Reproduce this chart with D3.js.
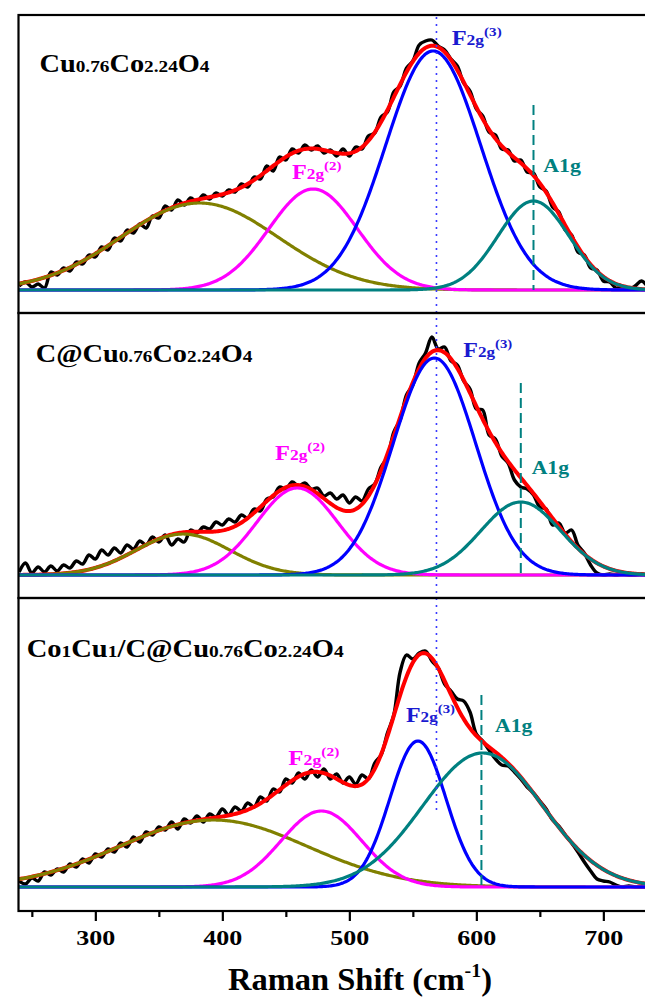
<!DOCTYPE html>
<html>
<head>
<meta charset="utf-8">
<script src="https://cdn.jsdelivr.net/npm/d3@7"></script>
<style>
  body { margin: 0; background: #fff; }
  svg { display: block; }
  text { font-family: "Liberation Serif", "Times New Roman", serif; font-weight: bold; }
</style>
</head>
<body>
<div id="chart"></div>
<script>
// raw spectra, sampled every 5 cm-1 from 240 cm-1 (intensity, a.u.)
const shiftStart = 240, shiftStep = 5;

const spectrum1 = [
  4, 8, 3, 6, 2, 18, 15, 22, 19, 28,
  26, 35, 33, 43, 40, 52, 49, 60, 57, 66,
  62, 74, 72, 84, 80, 90, 85, 92, 88, 95,
  91, 97, 94, 100, 98, 106, 103, 113, 111, 124,
  119, 133, 130, 141, 137, 145, 140, 144, 137, 140,
  134, 141, 134, 143, 141, 154, 157, 173, 178, 198,
  204, 222, 229, 245, 249, 250, 244, 240, 231, 224,
  207, 199, 181, 174, 158, 155, 141, 140, 129, 130,
  118, 117, 103, 99, 83, 78, 60, 55, 38, 35,
  22, 20, 9, 8, 2, 3, 1, 4, 9, 3
];
const spectrum2 = [
  3, 12, 2, 8, 3, 9, 4, 10, 7, 14,
  11, 20, 16, 25, 20, 27, 22, 30, 26, 34,
  30, 38, 33, 40, 30, 36, 33, 45, 42, 48,
  46, 53, 50, 56, 53, 60, 57, 66, 64, 76,
  78, 88, 86, 93, 89, 92, 86, 87, 79, 82,
  76, 80, 72, 78, 74, 86, 91, 108, 118, 143,
  155, 180, 190, 212, 222, 238, 226, 228, 214, 210,
  194, 186, 166, 165, 140, 136, 119, 112, 95, 88,
  86, 80, 68, 66, 50, 52, 42, 45, 30, 22,
  10, 2, 0, 1, 0, 1, 0, 0, 1, 0
];
const spectrum3 = [
  6, 3, 9, 6, 15, 12, 18, 15, 23, 20,
  28, 24, 33, 30, 38, 35, 44, 40, 50, 45,
  55, 52, 60, 57, 65, 58, 68, 64, 71, 65,
  73, 70, 78, 72, 80, 76, 84, 80, 90, 86,
  98, 95, 108, 104, 114, 108, 117, 110, 118, 108,
  113, 104, 110, 103, 112, 108, 124, 132, 154, 172,
  215, 232, 228, 234, 236, 226, 219, 203, 196, 188,
  186, 175, 153, 146, 137, 128, 122, 121, 115, 108,
  100, 94, 86, 78, 67, 61, 52, 44, 35, 25,
  16, 8, 6, 5, 2, 0, 1, 0, 0, 0
];

// gaussian fit components: [shoulder, F2g(2), F2g(3), A1g]
const centers1 = [382, 471.5, 566, 645];
const fwhm1 = [146, 82, 88, 66];
const heights1 = [87, 101, 239, 89];

const centers2 = [369, 459, 567, 635];
const fwhm2 = [87, 75, 76.5, 74];
const heights2 = [41, 87, 217, 73];

const centers3 = [393, 478, 554, 605];
const fwhm3 = [174, 75, 52, 111];
const heights3 = [67, 76, 146, 134];

const sampleNames = ["Cu0.76Co2.24O4", "C@Cu0.76Co2.24O4", "Co1Cu1/C@Cu0.76Co2.24O4"];
const a1gMarks = [645, 635, 604];        // dashed A1g marker position, cm-1
const a1gMarkTops = [185, 192, 192];     // top of the dashed marker, a.u.
const f2g3Mark = 568.6;                  // dotted guide across panels
const majorTicks = [300, 400, 500, 600, 700];
const minorTicks = [250, 350, 450, 550, 650, 750];

const compColors = ["#808000", "#ff00ff", "#0000ff", "#008080"];

const width = 645, height = 999;
const plotLeft = 18.5, plotRight = 647.8;

const panels = [
  {top: 15, bottom: 313, domain: [-23, 275], spec: spectrum1, c: centers1, w: fwhm1, h: heights1,
   name: {x: 39.5, y: 72, len: 170},
   labels: [{x: 292, y: 179, len: 49.6}, {x: 451.7, y: 45, len: 50}, {x: 543.3, y: 171.7, len: 37.7}]},
  {top: 313, bottom: 598, domain: [-23, 262], spec: spectrum2, c: centers2, w: fwhm2, h: heights2,
   name: {x: 35.7, y: 361.7, len: 216.7},
   labels: [{x: 275, y: 460, len: 50}, {x: 463.3, y: 357.3, len: 49}, {x: 531.7, y: 474, len: 37.3}]},
  {top: 598, bottom: 911, domain: [-24, 289], spec: spectrum3, c: centers3, w: fwhm3, h: heights3,
   name: {x: 26.7, y: 656.7, len: 317},
   labels: [{x: 288.3, y: 765, len: 51}, {x: 406, y: 721.7, len: 49}, {x: 495, y: 731.7, len: 37.3}]}
];

const svg = d3.select("#chart").append("svg")
  .attr("width", width)
  .attr("height", height);

const x = d3.scaleLinear().domain([239.5, 735]).range([plotLeft, plotRight]);

function gauss(v, c, w, h) {
  return h * Math.exp(-4 * Math.LN2 * (v - c) * (v - c) / (w * w));
}

const grid = d3.range(239.5, 736, 1);

panels.forEach((p, i) => {
  const y = d3.scaleLinear().domain(p.domain).range([p.bottom, p.top]);
  const clipId = "clip" + i;
  svg.append("clipPath").attr("id", clipId)
    .append("rect")
    .attr("x", plotLeft).attr("y", p.top)
    .attr("width", plotRight - plotLeft).attr("height", p.bottom - p.top);

  const g = svg.append("g").attr("clip-path", `url(#${clipId})`);
  const line = d3.line().x(d => x(d[0])).y(d => y(d[1]));

  // raw data
  const raw = p.spec.map((v, k) => [shiftStart + k * shiftStep, v]);
  g.append("path")
    .attr("d", line.curve(d3.curveCatmullRom)(raw))
    .attr("fill", "none").attr("stroke", "#000").attr("stroke-width", 3.4);

  // cumulative fit
  line.curve(d3.curveLinear);
  const fit = grid.map(v => [v, d3.sum(p.c, (c, k) => gauss(v, c, p.w[k], p.h[k]))]);
  g.append("path")
    .attr("d", line(fit))
    .attr("fill", "none").attr("stroke", "#ff0000").attr("stroke-width", 4);

  // components
  p.c.forEach((c, k) => {
    const comp = grid.map(v => [v, gauss(v, c, p.w[k], p.h[k])]);
    g.append("path")
      .attr("d", line(comp))
      .attr("fill", "none").attr("stroke", compColors[k]).attr("stroke-width", 3.2);
  });

  // A1g marker
  g.append("line")
    .attr("x1", x(a1gMarks[i])).attr("x2", x(a1gMarks[i]))
    .attr("y1", y(a1gMarkTops[i])).attr("y2", y(0))
    .attr("stroke", "#008080").attr("stroke-width", 2)
    .attr("stroke-dasharray", "10,5");

  // sample name with small numbers
  const name = svg.append("text")
    .attr("x", p.name.x).attr("y", p.name.y)
    .attr("fill", "#000")
    .attr("textLength", p.name.len)
    .attr("lengthAdjust", "spacingAndGlyphs");
  sampleNames[i].split(/(\d[\d.]*)/).filter(s => s).forEach(s => {
    name.append("tspan")
      .style("font-size", /\d/.test(s) ? "17px" : "25px")
      .text(s);
  });

  // peak labels
  const lab = p.labels;
  [[1, "2", "#ff00ff"], [2, "3", "#1a1ad0"]].forEach(([k, n, col]) => {
    const t = svg.append("text")
      .attr("x", lab[k - 1].x).attr("y", lab[k - 1].y)
      .attr("fill", col)
      .attr("textLength", lab[k - 1].len)
      .attr("lengthAdjust", "spacingAndGlyphs");
    t.append("tspan").style("font-size", "21px").text("F");
    t.append("tspan").style("font-size", "15px").text("2g");
    t.append("tspan").style("font-size", "13px").attr("dy", -9).text(`(${n})`);
  });
  svg.append("text")
    .attr("x", lab[2].x).attr("y", lab[2].y)
    .attr("fill", "#008080")
    .style("font-size", "19px")
    .attr("textLength", lab[2].len)
    .attr("lengthAdjust", "spacingAndGlyphs")
    .text("A1g");
});

// dotted guide through all panels
svg.append("line")
  .attr("x1", x(f2g3Mark)).attr("x2", x(f2g3Mark))
  .attr("y1", 17).attr("y2", 815)
  .attr("stroke", "#3a3aff").attr("stroke-width", 1.6)
  .attr("stroke-dasharray", "2,5");

// frames
panels.forEach(p => {
  svg.append("rect")
    .attr("x", plotLeft).attr("y", p.top)
    .attr("width", plotRight - plotLeft).attr("height", p.bottom - p.top)
    .attr("fill", "none").attr("stroke", "#000").attr("stroke-width", 2.2);
});

// x axis
const axisY = panels[2].bottom;
const major = svg.append("g")
  .attr("transform", `translate(0,${axisY})`)
  .call(d3.axisBottom(x).tickValues(majorTicks).tickSize(10).tickPadding(8).tickFormat(d3.format("d")));
major.select(".domain").remove();
major.selectAll("line").attr("stroke", "#000").attr("stroke-width", 2.2);
major.selectAll("text")
  .attr("fill", "#000")
  .style("font-family", "'Liberation Serif', 'Times New Roman', serif")
  .style("font-weight", "bold")
  .style("font-size", "22px")
  .attr("textLength", 39)
  .attr("lengthAdjust", "spacingAndGlyphs");

const minor = svg.append("g")
  .attr("transform", `translate(0,${axisY})`)
  .call(d3.axisBottom(x).tickValues(minorTicks.filter(v => v <= 735)).tickSize(6).tickFormat(""));
minor.select(".domain").remove();
minor.selectAll("line").attr("stroke", "#000").attr("stroke-width", 2.2);

const title = svg.append("text")
  .attr("x", 228).attr("y", 990)
  .attr("fill", "#000")
  .attr("textLength", 264)
  .attr("lengthAdjust", "spacingAndGlyphs");
title.append("tspan").style("font-size", "31px").text("Raman Shift (cm");
title.append("tspan").style("font-size", "19px").attr("dy", -13).text("-1");
title.append("tspan").style("font-size", "31px").attr("dy", 13).text(")");
</script>
</body>
</html>
